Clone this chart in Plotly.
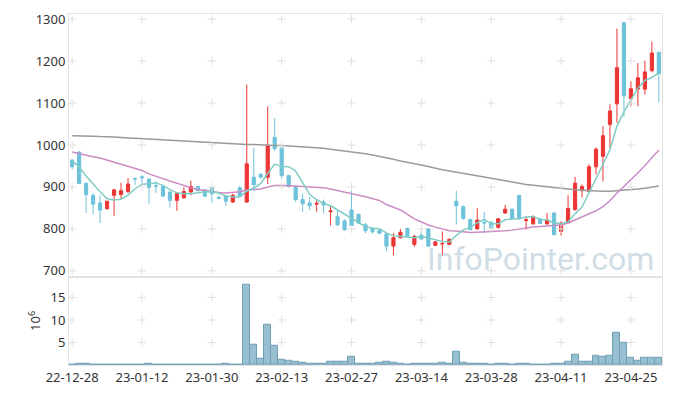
import plotly.graph_objects as go
from plotly.subplots import make_subplots

dates = ["22-12-28", "22-12-29", "23-01-02", "23-01-03", "23-01-04", "23-01-05", "23-01-06", "23-01-09",
         "23-01-10", "23-01-11", "23-01-12", "23-01-13", "23-01-16", "23-01-17", "23-01-18", "23-01-19",
         "23-01-20", "23-01-25", "23-01-26", "23-01-27", "23-01-30", "23-01-31", "23-02-01", "23-02-02",
         "23-02-03", "23-02-06", "23-02-07", "23-02-08", "23-02-09", "23-02-10", "23-02-13", "23-02-14",
         "23-02-15", "23-02-16", "23-02-17", "23-02-20", "23-02-21", "23-02-22", "23-02-23", "23-02-24",
         "23-02-27", "23-02-28", "23-03-02", "23-03-03", "23-03-06", "23-03-07", "23-03-08", "23-03-09",
         "23-03-10", "23-03-13", "23-03-14", "23-03-15", "23-03-16", "23-03-17", "23-03-20", "23-03-21",
         "23-03-22", "23-03-23", "23-03-24", "23-03-27", "23-03-28", "23-03-29", "23-03-30", "23-03-31",
         "23-04-03", "23-04-04", "23-04-05", "23-04-06", "23-04-07", "23-04-10", "23-04-11", "23-04-12",
         "23-04-13", "23-04-14", "23-04-17", "23-04-18", "23-04-19", "23-04-20", "23-04-21", "23-04-24",
         "23-04-25", "23-04-26", "23-04-27", "23-04-28", "23-05-02"]

open_ = [964, 983, 909, 880, 862, 848, 880, 882, 889, 920, 924, 919, 903, 901, 888, 868, 874, 888, 901, 893,
         898, 875, 878, 864, 898, 864, 923, 930, 923, 1018, 993, 927, 901, 870, 862, 859, 864, 841, 829, 819,
         845, 835, 810, 800, 796, 788, 759, 779, 801, 763, 785, 800, 761, 764, 763, 866, 853, 822, 800, 816,
         816, 804, 838, 847, 880, 820, 812, 824, 812, 838, 794, 815, 846, 891, 889, 948, 973, 1049, 1098, 1291,
         1110, 1133, 1133, 1177, 1221]
high = [966, 986, 910, 884, 880, 867, 894, 910, 921, 923, 929, 920, 914, 905, 890, 885, 899, 915, 902, 895,
        899, 880, 880, 884, 903, 1144, 993, 933, 1092, 1064, 995, 929, 902, 884, 876, 868, 870, 856, 845, 823,
        891, 836, 814, 804, 800, 790, 790, 800, 803, 786, 798, 801, 771, 794, 778, 891, 856, 825, 849, 841,
        818, 826, 857, 848, 881, 830, 832, 825, 838, 840, 818, 880, 924, 906, 954, 994, 1045, 1097, 1277, 1293,
        1152, 1195, 1201, 1246, 1222]
low = [942, 907, 838, 835, 814, 846, 831, 872, 885, 905, 907, 860, 886, 876, 851, 843, 872, 880, 890, 876,
       862, 870, 854, 862, 876, 862, 890, 920, 907, 985, 920, 898, 864, 841, 845, 841, 837, 808, 806, 796,
       806, 812, 790, 789, 787, 747, 737, 777, 780, 757, 775, 758, 759, 736, 762, 810, 822, 797, 798, 790,
       800, 800, 836, 822, 822, 798, 810, 812, 810, 785, 784, 812, 843, 875, 888, 930, 913, 993, 1053, 1067,
       1092, 1092, 1120, 1173, 1102]
close = [948, 908, 882, 859, 845, 866, 893, 891, 907, 919, 922, 899, 901, 878, 868, 884, 889, 901, 891, 878,
         884, 873, 866, 880, 878, 955, 905, 923, 999, 991, 927, 901, 870, 860, 855, 861, 857, 843, 810, 798,
         808, 814, 796, 793, 790, 759, 779, 792, 783, 782, 776, 759, 769, 765, 775, 855, 825, 798, 821, 814,
         803, 824, 847, 825, 824, 822, 829, 813, 821, 786, 814, 849, 909, 901, 948, 990, 1022, 1081, 1184, 1117,
         1134, 1160, 1174, 1219, 1170]

ma5 = [962, 948, 926, 906, 888.4, 872, 869, 870.8, 880.4, 895.2, 906.4, 907.6, 909.6, 903.8, 893.6, 886, 884,
       884, 886.6, 888.6, 888.6, 885.4, 878.4, 876.2, 876.2, 890.4, 896.8, 908.2, 932, 954.6, 949, 948.2, 937.6,
       909.8, 882.6, 869.4, 860.6, 855.2, 845.2, 833.8, 823.2, 814.6, 805.2, 801.8, 800.2, 790.4, 783.4, 782.6,
       780.6, 779, 782.4, 778.4, 773.8, 770.2, 768.8, 784.6, 797.8, 803.6, 814.8, 822.6, 812.2, 812, 821.8,
       822.6, 824.6, 828.4, 829.4, 822.6, 821.8, 814.2, 812.6, 816.6, 835.8, 851.8, 884.2, 919.4, 954, 988.4,
       1045, 1078.8, 1107.6, 1135.2, 1153.8, 1160.8, 1171.4]
ma20 = [983, 979, 976, 972, 969, 964, 960, 955, 950, 944, 939, 931, 925, 920, 914, 909, 903, 898, 894, 891.5,
        888.3, 886.5, 885.7, 886.8, 888.4, 892.9, 893.5, 895.1, 899.7, 903.3, 903.5, 903.6, 902.1, 901.2, 900.5,
        899.4, 897.8, 894.9, 890.8, 886.8, 883, 880.1, 876.6, 872.2, 867.8, 858, 851.7, 845.2, 834.4, 823.9,
        816.4, 809.3, 804.2, 799.5, 795.5, 795.2, 793.6, 791.3, 791.9, 792.7, 792.4, 792.9, 795.5, 797.1, 798.8,
        801.9, 804.4, 805.5, 807.4, 807.6, 809.5, 814, 821, 827.8, 836.4, 843.2, 853, 867.2, 885.3, 900.5, 917,
        933.8, 950.2, 969.9, 987.2]
ma120 = [1022, 1022, 1021, 1021, 1020, 1020, 1019, 1018, 1017, 1016, 1015, 1014, 1013, 1012, 1011, 1010, 1009,
         1008, 1007, 1006, 1005, 1004, 1003, 1002, 1002, 1001, 1001, 1000, 1000, 999, 999, 998, 997, 996, 995,
         994, 992, 990, 988, 986, 984, 982, 979, 976, 973, 970, 966, 962, 958, 955, 952, 948, 945, 941, 938,
         935, 932, 929, 926, 923, 920, 917, 914, 911, 908, 906, 904, 902, 900, 898, 896, 894, 893, 892, 891,
         890, 890, 890, 891, 892, 893, 895, 897, 899, 902]
volume = [0, 0.3, 0.3, 0, 0, 0, 0, 0, 0, 0, 0, 0.3, 0, 0, 0, 0, 0, 0, 0, 0,
          0, 0, 0.3, 0, 0, 17.8, 4.5, 1.45, 9.0, 4.3, 1.2, 0.95, 0.8, 0.6, 0.37, 0.35, 0.35, 0.8, 0.8, 0.8,
          1.9, 0.35, 0.35, 0.35, 0.6, 0.8, 0.6, 0.3, 0, 0.3, 0.3, 0.3, 0.3, 0.6, 0.3, 3.0, 0.6, 0.3, 0.3, 0.3,
          0, 0.3, 0.3, 0, 0.3, 0.3, 0, 0, 0, 0.3, 0.3, 0.8, 2.3, 0.8, 0.8, 2.1, 1.9, 2.1, 7.1, 4.9,
          1.7, 1.0, 1.7, 1.7, 1.7]

price_ticks = [700, 800, 900, 1000, 1100, 1200, 1300]
vol_ticks = [5, 10, 15]
x_tick_labels = dates[::10]

RED = "#ec3535"
BLUE = "#6dc2da"
FONT = "Noto Sans"

fig = make_subplots(rows=2, cols=1, shared_xaxes=True, vertical_spacing=0)

fig.add_trace(go.Scatter(x=dates, y=ma120, mode="lines", line=dict(color="#9a9a9a", width=1.5)), row=1, col=1)
fig.add_trace(go.Scatter(x=dates, y=ma20, mode="lines", line=dict(color="#cc8cc4", width=1.5)), row=1, col=1)

fig.add_trace(go.Candlestick(x=dates, open=open_, high=high, low=low, close=close,
                             increasing=dict(line=dict(color=RED, width=1), fillcolor=RED),
                             decreasing=dict(line=dict(color=BLUE, width=1), fillcolor=BLUE),
                             whiskerwidth=0), row=1, col=1)

fig.add_trace(go.Scatter(x=dates, y=ma5, mode="lines", line=dict(color="#80cdc5", width=1.5)), row=1, col=1)

fig.add_trace(go.Bar(x=dates, y=volume, marker=dict(color="#97bfd0", line=dict(color="#6f9fb5", width=1))),
              row=2, col=1)

# grid "+" markers at tick intersections
gx = [d for d in x_tick_labels for _ in price_ticks]
gy = [p for _ in x_tick_labels for p in price_ticks]
fig.add_trace(go.Scatter(x=gx, y=gy, mode="markers", hoverinfo="skip",
                         marker=dict(symbol="cross-thin", size=6, line=dict(color="#e0e0e0", width=1))),
              row=1, col=1)
gx2 = [d for d in x_tick_labels for _ in vol_ticks]
gy2 = [p for _ in x_tick_labels for p in vol_ticks]
fig.add_trace(go.Scatter(x=gx2, y=gy2, mode="markers", hoverinfo="skip",
                         marker=dict(symbol="cross-thin", size=6, line=dict(color="#e0e0e0", width=1))),
              row=2, col=1)

# the page body has an 8px default margin, so the figure is 16px smaller than the window
fig.update_layout(
    width=657, height=380,
    margin=dict(l=61, r=2, t=2, b=20),
    paper_bgcolor="white", plot_bgcolor="white",
    showlegend=False, bargap=0, boxgap=0.35,
    font=dict(family=FONT, size=13, color="#333333"),
    modebar=dict(bgcolor="rgba(0,0,0,0)", color="rgba(0,0,0,0)", activecolor="rgba(0,0,0,0)"),
    annotations=[dict(text="InfoPointer.com", xref="paper", yref="paper", x=0.99, y=0.243,
                      xanchor="right", yanchor="bottom", showarrow=False,
                      font=dict(family="Roboto", size=32, color="rgba(165,192,208,0.55)"))],
)

axis_line = "#e3e3e3"
fig.update_xaxes(type="category", categoryorder="array", categoryarray=dates,
                 range=[-0.45, 84.45], showgrid=False, zeroline=False,
                 showline=True, linecolor=axis_line, mirror=True, ticks="",
                 tickvals=x_tick_labels, ticktext=x_tick_labels, tickangle=0,
                 rangeslider_visible=False)
fig.update_xaxes(showticklabels=False, row=1, col=1)
fig.update_xaxes(showticklabels=True, tickfont=dict(size=13, color="#333333"), row=2, col=1)

fig.update_yaxes(range=[686, 1312], tickvals=price_ticks, showgrid=False, zeroline=False,
                 showline=True, linecolor=axis_line, mirror=True, ticks="", ticklabeloverflow="allow",
                 tickfont=dict(size=13, color="#333333"), domain=[0.2514, 1], row=1, col=1)
fig.update_yaxes(range=[0, 19.6], tickvals=vol_ticks, showgrid=False, zeroline=False,
                 showline=True, linecolor=axis_line, mirror=True, ticks="",
                 tickfont=dict(size=13, color="#333333"), domain=[0, 0.2514],
                 title=dict(text="10<sup>6</sup>", font=dict(size=13, color="#333333"), standoff=6),
                 row=2, col=1)

fig.write_html("out.html")
